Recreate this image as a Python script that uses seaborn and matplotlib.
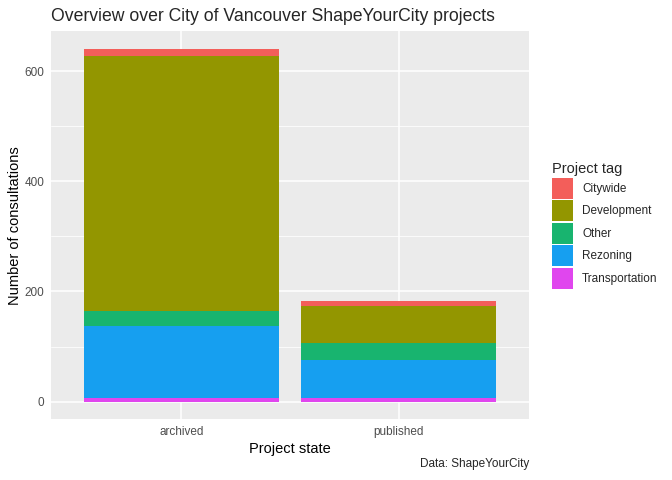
import pandas as pd
import numpy as np
import seaborn as sns
import matplotlib.pyplot as plt
from matplotlib.ticker import MultipleLocator

# ----------------------------- DATA --------------------------------------------------------------------

states = ["archived", "published"]
tags = ["Citywide", "Development", "Other", "Rezoning", "Transportation"]
colors = ["#F35E5A", "#939600", "#18B46F", "#169FF0", "#E046EE"]

# counts per tag, one value per state (archived, published)
citywide = [14, 9]
development = [463, 68]
other = [26, 30]
rezoning = [131, 69]
transportation = [7, 7]

counts = {
    "Citywide": citywide,
    "Development": development,
    "Other": other,
    "Rezoning": rezoning,
    "Transportation": transportation,
}

# stack from the bottom (last tag) up, so the first tag sits on top
rows = []
for i, st in enumerate(states):
    running = 0
    for tag in reversed(tags):
        running += counts[tag][i]
        rows.append({"state": st, "tag": tag, "top": running})
df = pd.DataFrame(rows)

# ----------------------------- PLOT --------------------------------------------------------------------

sns.set_style("darkgrid")
plt.rcParams["font.family"] = ["Liberation Sans", "DejaVu Sans"]

fig = plt.figure(figsize=(6.72, 4.8), dpi=100)
ax = fig.add_axes([0.0759, 0.1265, 0.7113, 0.8089])
ax.set_facecolor("#EBEBEB")

# taller cumulative bars drawn first, shorter ones drawn over them
sns.barplot(
    data=df,
    x="state",
    y="top",
    hue="tag",
    hue_order=tags,
    order=states,
    palette=colors,
    dodge=False,
    width=0.9,
    saturation=1,
    linewidth=0,
    ax=ax,
)

ax.set_xlim(-0.6, 1.6)
total = max(df["top"])
ax.set_ylim(-0.05 * total, total * 1.05)
ax.yaxis.set_major_locator(MultipleLocator(200))
ax.yaxis.set_minor_locator(MultipleLocator(100))

ax.grid(which="major", color="white", linewidth=1.1)
ax.grid(which="minor", axis="y", color="white", linewidth=0.55)
ax.set_axisbelow(True)
for s in ax.spines.values():
    s.set_visible(False)

ax.tick_params(axis="both", which="major", length=2.6, width=0.8, color="#333333",
               labelsize=8.45, labelcolor="#4D4D4D", pad=2)
ax.tick_params(axis="y", which="minor", length=0)

ax.set_xlabel("Project state", fontsize=10.56, color="black", labelpad=3)
ax.set_ylabel("Number of consultations", fontsize=10.56, color="black", labelpad=2)
ax.set_title("Overview over City of Vancouver ShapeYourCity projects",
             fontsize=12.7, loc="left", pad=7)

fig.text(0.787, 0.027, "Data: ShapeYourCity", ha="right", va="baseline", fontsize=8.45)

handles, labels = ax.get_legend_handles_labels()
ax.legend(
    handles, labels,
    title="Project tag",
    loc="upper left",
    bbox_to_anchor=(1.0475, 0.662),
    frameon=False,
    fontsize=8.45,
    title_fontsize=10.56,
    handlelength=1.85,
    handleheight=2.39,
    handletextpad=0.75,
    labelspacing=0.12,
    alignment="left",
    borderaxespad=0,
    borderpad=0,
)

plt.savefig("out.png", dpi=100)
plt.close()
